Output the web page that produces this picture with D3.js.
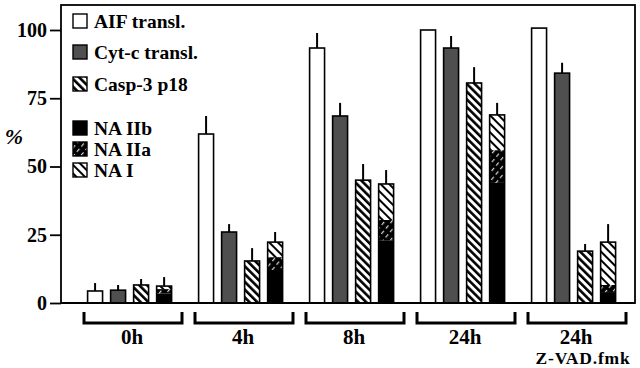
<!DOCTYPE html>
<html>
<head>
<meta charset="utf-8">
<script src="https://cdn.jsdelivr.net/npm/d3@7"></script>
<style>
  body { margin: 0; background: #fff; }
  text { font-family: "Liberation Serif", "Times New Roman", serif; font-weight: bold; }
</style>
</head>
<body>
<div id="chart"></div>
<script>
// groups along the x axis
let groups = ["0h", "4h", "8h", "24h", "24h zvad"];
let groupLabels = ["0h", "4h", "8h", "24h", "24h"];
let groupSubLabels = ["", "", "", "", "Z-VAD.fmk"];

// % values, one entry per group
let aif = [4.4, 61.9, 93.4, 100, 100.7];
let aifSd = [2.9, 6.6, 5.5, 0, 0];
let cytc = [4.7, 26, 68.5, 93.4, 84.2];
let cytcSd = [1.9, 2.9, 4.8, 4.4, 3.8];
let casp = [6.6, 15.4, 45, 80.6, 19];
let caspSd = [2.2, 4.7, 5.9, 5.8, 2.6];
let naIIb = [3.5, 12.1, 23, 44, 4];
let naIIa = [1.6, 4.7, 7.4, 12, 2.6];
let naI = [1.1, 5.5, 13.2, 12.9, 15.7];
let naSd = [3.3, 3.7, 5.1, 4.4, 6.6];

let yTicks = [0, 25, 50, 75, 100];
let seriesNames = ["aif", "cytc", "casp", "na"];
let legendNames = ["AIF transl.", "Cyt-c transl.", "Casp-3 p18", "NA IIb", "NA IIa", "NA I"];
let legendFills = ["#fff", "#4f4f4f", "url(#pCasp)", "#000", "url(#pIIa)", "url(#pNaI)"];

class ApoptosisChart {
    constructor() {
        this.width = 640;
        this.height = 368;
        this.plot = {left: 61, right: 635, top: 5, bottom: 303};

        this.svg = d3.select("#chart").append("svg")
            .attr("width", this.width)
            .attr("height", this.height);

        let defs = this.svg.append("defs");

        // Casp-3 p18: dense black/white "\" stripes
        let pc = defs.append("pattern").attr("id", "pCasp")
            .attr("patternUnits", "userSpaceOnUse")
            .attr("width", 5.5).attr("height", 5.5)
            .attr("patternTransform", "rotate(-45)");
        pc.append("rect").attr("width", 5.5).attr("height", 5.5).attr("fill", "#fff");
        pc.append("rect").attr("width", 2.6).attr("height", 5.5).attr("fill", "#000");

        // NA I: thinner black "\" lines on white
        let pn = defs.append("pattern").attr("id", "pNaI")
            .attr("patternUnits", "userSpaceOnUse")
            .attr("width", 6).attr("height", 6)
            .attr("patternTransform", "rotate(-45)");
        pn.append("rect").attr("width", 6).attr("height", 6).attr("fill", "#fff");
        pn.append("rect").attr("width", 2).attr("height", 6).attr("fill", "#000");

        // NA IIa: white dashed "/" on black
        let pa = defs.append("pattern").attr("id", "pIIa")
            .attr("patternUnits", "userSpaceOnUse")
            .attr("width", 5.5).attr("height", 7)
            .attr("patternTransform", "rotate(40)");
        pa.append("rect").attr("width", 5.5).attr("height", 7).attr("fill", "#000");
        pa.append("rect").attr("x", 2).attr("y", 0).attr("width", 1).attr("height", 4).attr("fill", "#fff");

        this.y = d3.scaleLinear().domain([0, 100]).range([303, 30]);
        this.x0 = d3.scaleBand().domain(groups).range([76, 631]).padding(0);
        this.x1 = d3.scaleBand().domain(seriesNames).range([11.6, 95.6]).paddingInner(0.35).paddingOuter(0);
    }

    draw() {
        let svg = this.svg;
        let y = this.y, x0 = this.x0, x1 = this.x1;
        let bw = x1.bandwidth();

        // frame
        svg.append("rect")
            .attr("x", this.plot.left).attr("y", this.plot.top)
            .attr("width", this.plot.right - this.plot.left)
            .attr("height", this.plot.bottom - this.plot.top)
            .attr("fill", "none").attr("stroke", "#000").attr("stroke-width", 1.8);

        // y axis
        let yAx = svg.append("g")
            .attr("transform", "translate(" + this.plot.left + ",0)")
            .call(d3.axisLeft(y).tickValues(yTicks).tickSize(11).tickPadding(3));
        yAx.select(".domain").remove();
        yAx.selectAll("line").attr("stroke-width", 1.8);
        yAx.selectAll("text").attr("font-size", 20).attr("font-family", "Liberation Serif").attr("font-weight", "bold").attr("fill", "#000");

        svg.append("text")
            .attr("x", 14).attr("y", 144)
            .attr("text-anchor", "middle")
            .attr("font-size", 22).attr("font-weight", "normal").attr("font-style", "italic")
            .text("%");

        // simple bars
        let simple = [
            {key: "aif", vals: aif, sd: aifSd, fill: "#fff"},
            {key: "cytc", vals: cytc, sd: cytcSd, fill: "#4f4f4f"},
            {key: "casp", vals: casp, sd: caspSd, fill: "url(#pCasp)"}
        ];
        simple.forEach(s => {
            let data = groups.map((g, i) => ({g: g, v: s.vals[i], sd: s.sd[i]}));
            let gEl = svg.append("g").attr("class", "series-" + s.key);
            gEl.selectAll("line").data(data.filter(d => d.sd > 0)).enter().append("line")
                .attr("x1", d => x0(d.g) + x1(s.key) + bw / 2)
                .attr("x2", d => x0(d.g) + x1(s.key) + bw / 2)
                .attr("y1", d => y(d.v))
                .attr("y2", d => y(d.v + d.sd))
                .attr("stroke", "#000").attr("stroke-width", 2);
            gEl.selectAll("rect").data(data).enter().append("rect")
                .attr("x", d => x0(d.g) + x1(s.key))
                .attr("y", d => y(d.v))
                .attr("width", bw)
                .attr("height", d => y(0) - y(d.v))
                .attr("fill", s.fill)
                .attr("stroke", "#000").attr("stroke-width", 1.6);
        });

        // stacked NA bars
        let stackData = groups.map((g, i) => ({g: g, naIIb: naIIb[i], naIIa: naIIa[i], naI: naI[i], sd: naSd[i]}));
        let stack = d3.stack().keys(["naIIb", "naIIa", "naI"])(stackData);
        let stackFill = {naIIb: "#000", naIIa: "url(#pIIa)", naI: "url(#pNaI)"};
        let na = svg.append("g").attr("class", "series-na");

        na.selectAll("line.err").data(stackData).enter().append("line")
            .attr("class", "err")
            .attr("x1", d => x0(d.g) + x1("na") + bw / 2)
            .attr("x2", d => x0(d.g) + x1("na") + bw / 2)
            .attr("y1", d => y(d.naIIb + d.naIIa + d.naI))
            .attr("y2", d => y(d.naIIb + d.naIIa + d.naI + d.sd))
            .attr("stroke", "#000").attr("stroke-width", 2);

        stack.forEach(layer => {
            na.selectAll("rect." + layer.key).data(layer).enter().append("rect")
                .attr("class", layer.key)
                .attr("x", d => x0(d.data.g) + x1("na"))
                .attr("y", d => y(d[1]))
                .attr("width", bw)
                .attr("height", d => y(d[0]) - y(d[1]))
                .attr("fill", stackFill[layer.key]);
        });
        na.selectAll("rect.outline").data(stackData).enter().append("rect")
            .attr("class", "outline")
            .attr("x", d => x0(d.g) + x1("na"))
            .attr("y", d => y(d.naIIb + d.naIIa + d.naI))
            .attr("width", bw)
            .attr("height", d => y(0) - y(d.naIIb + d.naIIa + d.naI))
            .attr("fill", "none").attr("stroke", "#000").attr("stroke-width", 1.6);

        // zero line on top
        svg.append("line")
            .attr("x1", this.plot.left).attr("x2", this.plot.right)
            .attr("y1", y(0)).attr("y2", y(0))
            .attr("stroke", "#000").attr("stroke-width", 1.8);

        // group brackets + labels
        let br = svg.append("g").attr("class", "brackets");
        groups.forEach((g, i) => {
            let a = x0(g) + 8, b = x0(g) + 106;
            br.append("path")
                .attr("d", "M" + a + ",312V323H" + b + "V312")
                .attr("fill", "none").attr("stroke", "#000").attr("stroke-width", 3);
            br.append("text")
                .attr("x", x0(g) + 56).attr("y", 343.5)
                .attr("text-anchor", "middle").attr("font-size", 21)
                .text(groupLabels[i]);
            if (groupSubLabels[i]) {
                br.append("text")
                    .attr("x", x0(g) + 63).attr("y", 364)
                    .attr("text-anchor", "middle").attr("font-size", 17.5)
                    .attr("letter-spacing", 0.8)
                    .text(groupSubLabels[i]);
            }
        });

        // legend
        let legY = [21, 52, 84, 128, 149, 170];
        let leg = svg.append("g").attr("class", "legend");
        legendNames.forEach((n, i) => {
            leg.append("rect")
                .attr("x", 73).attr("y", legY[i] - 7)
                .attr("width", 14).attr("height", 14)
                .attr("fill", legendFills[i])
                .attr("stroke", "#000").attr("stroke-width", 1.4);
            leg.append("text")
                .attr("x", 94).attr("y", legY[i] + 6.5)
                .attr("font-size", 19.5)
                .text(n);
        });
    }
}

let chart = new ApoptosisChart();
chart.draw();
</script>
</body>
</html>
